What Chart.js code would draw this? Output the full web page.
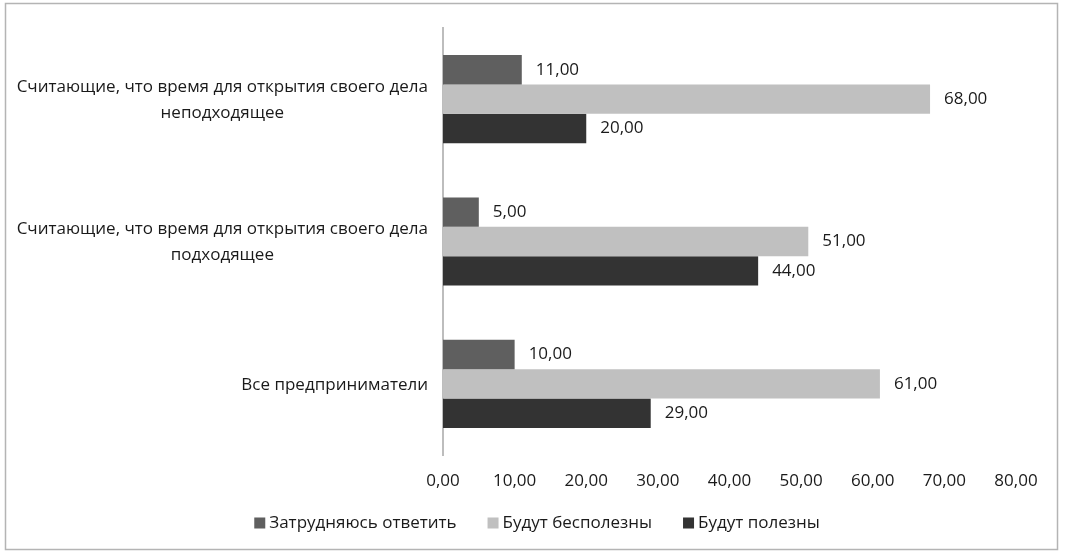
<!DOCTYPE html>
<html>
<head>
<meta charset="utf-8">
<script src="https://cdn.jsdelivr.net/npm/chart.js@4/dist/chart.umd.min.js"></script>
<style>
  html, body { margin: 0; padding: 0; background: #fff; }
  #wrap { width: 1065px; height: 554px; }
</style>
</head>
<body>
<div id="wrap"><canvas id="chart" width="1065" height="554"></canvas></div>
<script>
const categories = [
    ['Считающие, что время для открытия своего дела', 'неподходящее'],
    ['Считающие, что время для открытия своего дела', 'подходящее'],
    ['Все предприниматели']
];
const seriesNames = ['Затрудняюсь ответить', 'Будут бесполезны', 'Будут полезны'];
const hardToSay = [11, 5, 10];
const useless = [68, 51, 61];
const useful = [20, 44, 29];
const xTicks = [0, 10, 20, 30, 40, 50, 60, 70, 80];

const fontFamily = "'Open Sans', sans-serif";
const fontSize = 17;
const textColor = '#1a1a1a';

function fmt(v) {
    return v.toFixed(2).replace('.', ',');
}

// white background and thin frame around the chart
const framePlugin = {
    id: 'frame',
    beforeDraw(chart) {
        const ctx = chart.ctx;
        ctx.save();
        ctx.fillStyle = '#fff';
        ctx.fillRect(0, 0, chart.width, chart.height);
        ctx.strokeStyle = '#b4b4b4';
        ctx.lineWidth = 1.5;
        ctx.strokeRect(5.5, 3.5, 1052, 546);
        ctx.restore();
    }
};

// category labels: lines centered, block right-aligned to the axis
const categoryLabels = {
    id: 'categoryLabels',
    afterDraw(chart) {
        const ctx = chart.ctx;
        const y = chart.scales.y;
        ctx.save();
        ctx.font = fontSize + 'px ' + fontFamily;
        ctx.fillStyle = textColor;
        ctx.textBaseline = 'middle';
        ctx.textAlign = 'center';
        const right = y.right - 15;
        const lineH = 26;
        categories.forEach((lines, i) => {
            const cy = y.getPixelForValue(i) + 1;
            const widest = Math.max(...lines.map(l => ctx.measureText(l).width));
            const cx = right - widest / 2;
            const top = cy - (lines.length - 1) * lineH / 2;
            lines.forEach((l, j) => ctx.fillText(l, cx, top + j * lineH));
        });
        ctx.restore();
    }
};

// value labels to the right of each bar
const valueLabels = {
    id: 'valueLabels',
    afterDatasetsDraw(chart) {
        const ctx = chart.ctx;
        ctx.save();
        ctx.font = fontSize + 'px ' + fontFamily;
        ctx.fillStyle = textColor;
        ctx.textBaseline = 'middle';
        ctx.textAlign = 'left';
        chart.data.datasets.forEach((ds, di) => {
            chart.getDatasetMeta(di).data.forEach((bar, i) => {
                ctx.fillText(fmt(ds.data[i]), bar.x + 14, bar.y);
            });
        });
        ctx.restore();
    }
};

// legend row under the axis, square markers, centered
const bottomLegend = {
    id: 'bottomLegend',
    afterDraw(chart) {
        const ctx = chart.ctx;
        const box = 11, gapText = 4, gapItem = 31;
        const cy = 523;
        ctx.save();
        ctx.font = fontSize + 'px ' + fontFamily;
        ctx.textBaseline = 'middle';
        ctx.textAlign = 'left';
        const items = chart.data.datasets.map(ds => ({
            text: ds.label,
            color: ds.backgroundColor,
            w: ctx.measureText(ds.label).width
        }));
        const total = items.reduce((s, it) => s + box + gapText + it.w, 0) + gapItem * (items.length - 1);
        let x = 537 - total / 2;
        items.forEach(it => {
            ctx.fillStyle = it.color;
            ctx.fillRect(x, cy - box / 2, box, box);
            ctx.fillStyle = textColor;
            ctx.fillText(it.text, x + box + gapText, cy);
            x += box + gapText + it.w + gapItem;
        });
        ctx.restore();
    }
};

new Chart(document.getElementById('chart').getContext('2d'), {
    type: 'bar',
    data: {
        labels: categories.map(c => c.join(' ')),
        datasets: [
            { label: seriesNames[0], data: hardToSay, backgroundColor: '#5f5f5f' },
            { label: seriesNames[1], data: useless, backgroundColor: '#c0c0c0' },
            { label: seriesNames[2], data: useful, backgroundColor: '#333333' }
        ]
    },
    options: {
        indexAxis: 'y',
        responsive: false,
        animation: false,
        devicePixelRatio: 1,
        layout: { padding: { top: 28, right: 49, bottom: 59, left: 0 } },
        datasets: {
            bar: { categoryPercentage: 0.62, barPercentage: 1 }
        },
        scales: {
            x: {
                min: 0,
                max: 80,
                afterBuildTicks(scale) {
                    scale.ticks = xTicks.map(v => ({ value: v }));
                },
                afterFit(scale) {
                    scale.height = 40;
                },
                grid: { display: false },
                border: { display: false },
                ticks: {
                    padding: 8,
                    color: textColor,
                    font: { family: fontFamily, size: fontSize },
                    callback: v => fmt(v)
                }
            },
            y: {
                grid: { display: false },
                border: { display: true, color: '#bdbdbd', width: 2 },
                ticks: { display: false },
                afterFit(scale) {
                    scale.width = 443;
                }
            }
        },
        plugins: {
            legend: { display: false },
            tooltip: { enabled: false }
        }
    },
    plugins: [framePlugin, categoryLabels, valueLabels, bottomLegend]
});
</script>
</body>
</html>
